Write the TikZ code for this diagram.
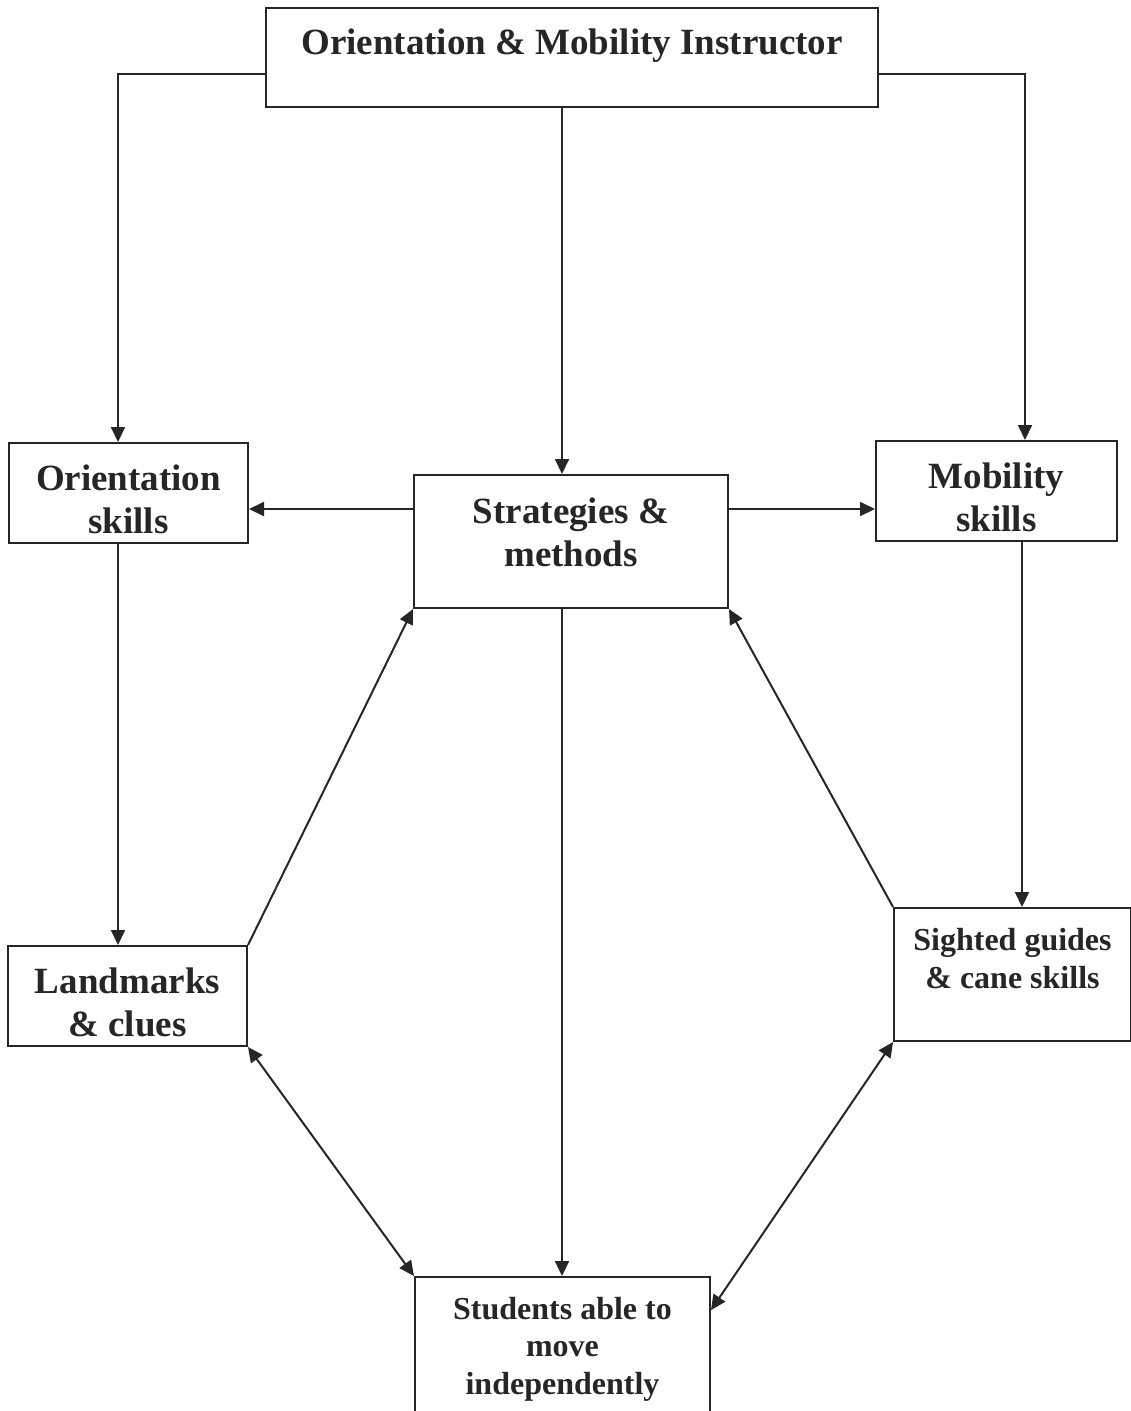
\documentclass[tikz,border=0pt]{standalone}
\usepackage{fontspec}
\setmainfont{Liberation Serif}
\usetikzlibrary{arrows.meta}
\begin{document}
\begin{tikzpicture}[x=1pt,y=-1pt,
  box/.style={draw=black!85,line width=2pt,fill=white,rectangle,inner sep=0pt},
  lbl/.style={align=center,inner sep=0pt,font=\fontsize{37}{43}\selectfont\bfseries,text=black!85},
  slbl/.style={lbl,font=\fontsize{32}{37.5}\selectfont\bfseries},
  arr/.style={draw=black!85,line width=2pt,-{Triangle[length=15pt,width=14pt]}},
  darr/.style={draw=black!85,line width=2pt,{Triangle[length=15pt,width=14pt]}-{Triangle[length=15pt,width=14pt]}}]
\useasboundingbox (0,0) rectangle (1131,1411);
\node[box,minimum width=612pt,minimum height=99pt,label={[lbl,yshift=12pt]center:Orientation \& Mobility Instructor}] (top) at (572,57.5) {};
\node[box,minimum width=239pt,minimum height=100pt,label={[lbl,yshift=-6pt]center:Orientation\\skills}] (orient) at (128.5,493) {};
\node[box,minimum width=314pt,minimum height=133pt,label={[lbl,yshift=9.5pt]center:Strategies \&\\methods}] (strat) at (571,541.5) {};
\node[box,minimum width=241pt,minimum height=100pt,label={[lbl,yshift=-6.5pt]center:Mobility\\skills}] (mob) at (996.5,491) {};
\node[box,minimum width=239pt,minimum height=100pt,label={[lbl,yshift=-6.5pt]center:Landmarks\\\& clues}] (land) at (127.5,996) {};
\node[box,minimum width=237pt,minimum height=133pt,label={[slbl,yshift=16pt]center:Sighted guides\\\& cane skills}] (sight) at (1012.5,974.5) {};
\node[box,minimum width=295pt,minimum height=140pt,label={[slbl,yshift=-2pt]center:Students able to\\move\\independently}] (stud) at (562.5,1347) {};
\draw[arr] ([yshift=-16.5pt]top.west) -| ([xshift=-10.5pt]orient.north);
\draw[arr] ([yshift=-16.5pt]top.east) -| ([xshift=28.5pt]mob.north);
\draw[arr] ([xshift=-10pt]top.south) -- ([xshift=-10pt]top.south |- strat.north);
\draw[arr] ([yshift=32.5pt]strat.west) -- ([yshift=32.5pt]strat.west -| orient.east);
\draw[arr] ([yshift=32.5pt]strat.east) -- ([yshift=32.5pt]strat.east -| mob.west);
\draw[arr] ([xshift=-10.5pt]orient.south) -- ([xshift=-10.5pt]orient.south |- land.north);
\draw[arr] ([xshift=25.5pt]mob.south) -- ([xshift=25.5pt]mob.south |- sight.north);
\draw[arr] (land.north east) -- (strat.south west);
\draw[arr] (sight.north west) -- (strat.south east);
\draw[arr] ([xshift=-9pt]strat.south) -- ([xshift=-9pt]strat.south |- stud.north);
\draw[darr] (land.south east) -- (stud.north west);
\draw[darr] (sight.south west) -- ([yshift=37pt]stud.east);
\end{tikzpicture}
\end{document}
